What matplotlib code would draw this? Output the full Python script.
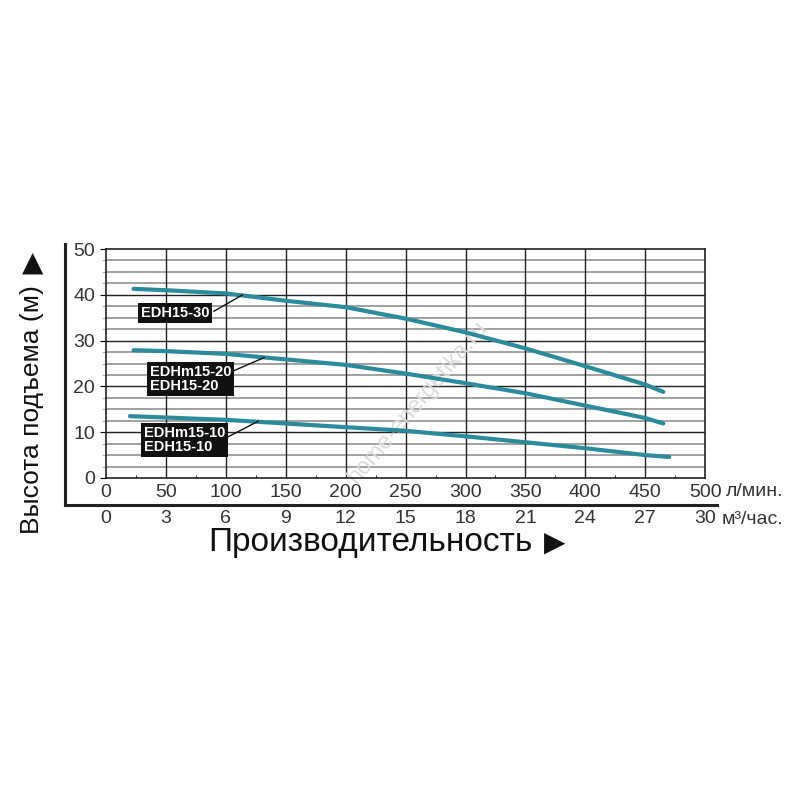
import numpy as np
import matplotlib.pyplot as plt
from matplotlib.lines import Line2D

# pump curves, flow in l/min, head in m
q30 = [23, 50, 100, 150, 200, 250, 300, 350, 400, 450, 465]
h30 = [41.3, 41.0, 40.3, 38.7, 37.3, 34.8, 31.8, 28.3, 24.4, 20.4, 18.8]
q20 = [23, 50, 100, 150, 200, 250, 300, 350, 400, 450, 465]
h20 = [27.9, 27.7, 27.1, 25.9, 24.7, 22.8, 20.7, 18.5, 15.8, 13.1, 11.9]
q10 = [20, 50, 100, 150, 200, 250, 300, 350, 400, 450, 470]
h10 = [13.5, 13.2, 12.7, 11.9, 11.1, 10.3, 9.1, 7.8, 6.5, 5.0, 4.6]

lmin_ticks = [0, 50, 100, 150, 200, 250, 300, 350, 400, 450, 500]
m3h_labels = ["0", "3", "6", "9", "12", "15", "18", "21", "24", "27", "30"]
y_ticks = [0, 10, 20, 30, 40, 50]

labels = ["EDH15-30", "EDHm15-20\nEDH15-20", "EDHm15-10\nEDH15-10"]
label_pos = [(29, 36.1), (36.5, 21.7), (31.5, 8.3)]
label_tip = [(114, 40.0), (132, 26.3), (127, 12.4)]
label_tail = [(90, 36.4), (102, 22.9), (99, 8.6)]

curve_col = "#2b8a9c"
txt_col = "#333333"
font = ["Liberation Sans", "DejaVu Sans"]

fig = plt.figure(figsize=(8, 8), dpi=100)
ax = fig.add_axes([0.1325, 0.4025, 0.749, 0.28625])

ax.set_xlim(0, 500)
ax.set_ylim(0, 50)

for y in np.arange(2.5, 50, 2.5):
    if y % 10 == 0:
        ax.axhline(y, color="#222222", lw=1.0, zorder=1)
    else:
        ax.axhline(y, color="#9a9a9a", lw=1.3, zorder=1)
for x in lmin_ticks[1:-1]:
    ax.axvline(x, color="#222222", lw=1.0, zorder=1)

ax.text(0.52, 0.33, "home-energetika.ru", transform=ax.transAxes, rotation=50,
        ha="center", va="center", color="#dcdcdc", fontsize=17, family=font, zorder=2)

ax.plot(q30, h30, color=curve_col, lw=3, solid_capstyle="round", zorder=3)
ax.plot(q20, h20, color=curve_col, lw=3, solid_capstyle="round", zorder=3)
ax.plot(q10, h10, color=curve_col, lw=3, solid_capstyle="round", zorder=3)

for lab, pos, tip, tail in zip(labels, label_pos, label_tip, label_tail):
    ax.plot([tail[0], tip[0]], [tail[1], tip[1]], color="#111111", lw=1, zorder=4)
    ax.text(pos[0], pos[1], lab, ha="left", va="center", color="white",
            fontsize=10.5, fontweight="bold", family=font, linespacing=1.0,
            multialignment="left",
            bbox=dict(boxstyle="square,pad=0.2", fc="#111111", ec="none"), zorder=5)

ax.set_xticks(lmin_ticks)
ax.set_xticks(np.arange(25, 500, 50), minor=True)
ax.set_yticks(y_ticks)
ax.set_yticks(np.arange(2.5, 50, 2.5), minor=True)
ax.tick_params(axis="both", which="major", labelsize=14, labelcolor=txt_col)
ax.tick_params(axis="x", which="major", length=0, pad=4)
ax.tick_params(axis="x", which="minor", length=2, direction="in")
ax.tick_params(axis="y", which="major", length=4, pad=4)
ax.tick_params(axis="y", which="minor", length=3, color="#9a9a9a")
for t in ax.get_xticklabels() + ax.get_yticklabels():
    t.set_family(font)
for s in ax.spines.values():
    s.set_color("#222222")
    s.set_linewidth(1.2)

sec = ax.secondary_xaxis(-0.135)
sec.set_xticks(lmin_ticks, m3h_labels)
sec.tick_params(length=0, labelsize=14, labelcolor=txt_col, pad=1)
for t in sec.get_xticklabels():
    t.set_family(font)
sec.spines["bottom"].set_visible(False)

# outer frame
fig.add_artist(Line2D([65 / 800, 65 / 800], [1 - 244 / 800, 1 - 505 / 800], color="#222222", lw=2.2))
fig.add_artist(Line2D([65 / 800, 717 / 800], [1 - 505 / 800, 1 - 505 / 800], color="#222222", lw=2.2))

fig.text(726 / 800, 1 - 492 / 800, "л/мин.", fontsize=14, color=txt_col, family=font, va="center")
fig.text(722 / 800, 1 - 519 / 800, "м³/час.", fontsize=14, color=txt_col, family=font, va="center")

fig.text(370 / 800, 1 - 542 / 800, "Производительность", fontsize=24, color="#111111",
         family=font, ha="center", va="center")
fig.text(555 / 800, 1 - 543 / 800, "▶", fontsize=20, color="#111111",
         family=["DejaVu Sans"], ha="center", va="center")

fig.text(32 / 800, 1 - 410 / 800, "Высота подъема (м)", fontsize=19, color="#111111",
         family=font, ha="center", va="center", rotation=90)
fig.text(33 / 800, 1 - 263 / 800, "▲", fontsize=20, color="#111111",
         family=["DejaVu Sans"], ha="center", va="center")

fig.savefig("out.png", dpi=100, facecolor="white")
